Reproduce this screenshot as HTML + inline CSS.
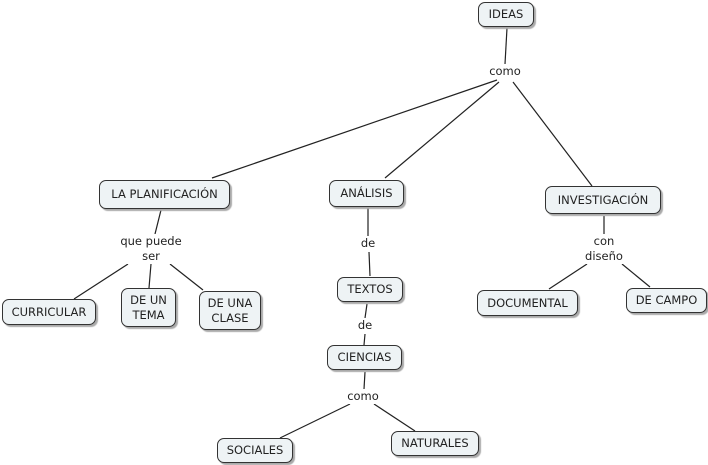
<!DOCTYPE html>
<html><head><meta charset="utf-8"><style>
body{margin:0;width:708px;height:465px;background:#fff;position:relative;overflow:hidden;font-family:"DejaVu Sans","Liberation Sans",sans-serif;font-size:11.5px;color:#222}
.n{position:absolute;box-sizing:border-box;background:#eef3f5;border:1px solid #333;border-radius:7px;box-shadow:2px 2px 1px #aaa;display:flex;align-items:center;justify-content:center;text-align:center;line-height:15px}
.l{position:absolute;text-align:center;line-height:15px;background:#fff;transform:translateX(-50%);white-space:nowrap}
svg{position:absolute;left:0;top:0}
</style></head><body>
<svg width="708" height="465" stroke="#222" stroke-width="1.2">
<line x1="507" y1="28" x2="505" y2="64"/>
<line x1="497" y1="80" x2="212" y2="178"/>
<line x1="499" y1="82" x2="385" y2="178"/>
<line x1="513" y1="82" x2="592" y2="186"/>
<line x1="161" y1="210" x2="155" y2="234"/>
<line x1="128" y1="264" x2="74" y2="299"/>
<line x1="151" y1="264" x2="149" y2="288"/>
<line x1="170" y1="264" x2="203" y2="290"/>
<line x1="368" y1="208" x2="368" y2="236"/>
<line x1="369" y1="252" x2="370" y2="276"/>
<line x1="367" y1="304" x2="365" y2="318"/>
<line x1="365" y1="334" x2="364" y2="345"/>
<line x1="365" y1="372" x2="364" y2="389"/>
<line x1="350" y1="404" x2="280" y2="438"/>
<line x1="374" y1="404" x2="415" y2="431"/>
<line x1="604" y1="216" x2="604" y2="234"/>
<line x1="587" y1="264" x2="549" y2="289"/>
<line x1="622" y1="264" x2="650" y2="287"/>
</svg>
<div class="n" style="left:478px;top:2px;width:56px;height:25px">IDEAS</div>
<div class="n" style="left:99px;top:180px;width:131px;height:29px">LA PLANIFICACIÓN</div>
<div class="n" style="left:329px;top:180px;width:75px;height:27px">ANÁLISIS</div>
<div class="n" style="left:545px;top:186px;width:116px;height:28px">INVESTIGACIÓN</div>
<div class="n" style="left:2px;top:299px;width:94px;height:26px">CURRICULAR</div>
<div class="n" style="left:121px;top:288px;width:55px;height:39px">DE UN<br>TEMA</div>
<div class="n" style="left:199px;top:291px;width:62px;height:39px">DE UNA<br>CLASE</div>
<div class="n" style="left:337px;top:277px;width:66px;height:25px">TEXTOS</div>
<div class="n" style="left:327px;top:345px;width:75px;height:25px">CIENCIAS</div>
<div class="n" style="left:477px;top:290px;width:101px;height:26px">DOCUMENTAL</div>
<div class="n" style="left:626px;top:288px;width:81px;height:25px">DE CAMPO</div>
<div class="n" style="left:217px;top:438px;width:76px;height:25px">SOCIALES</div>
<div class="n" style="left:391px;top:431px;width:88px;height:25px">NATURALES</div>
<div class="l" style="left:505px;top:64px">como</div>
<div class="l" style="left:151px;top:234px">que puede<br>ser</div>
<div class="l" style="left:368px;top:236px">de</div>
<div class="l" style="left:365px;top:318px">de</div>
<div class="l" style="left:604px;top:234px">con<br>diseño</div>
<div class="l" style="left:363px;top:389px">como</div>
</body></html>
